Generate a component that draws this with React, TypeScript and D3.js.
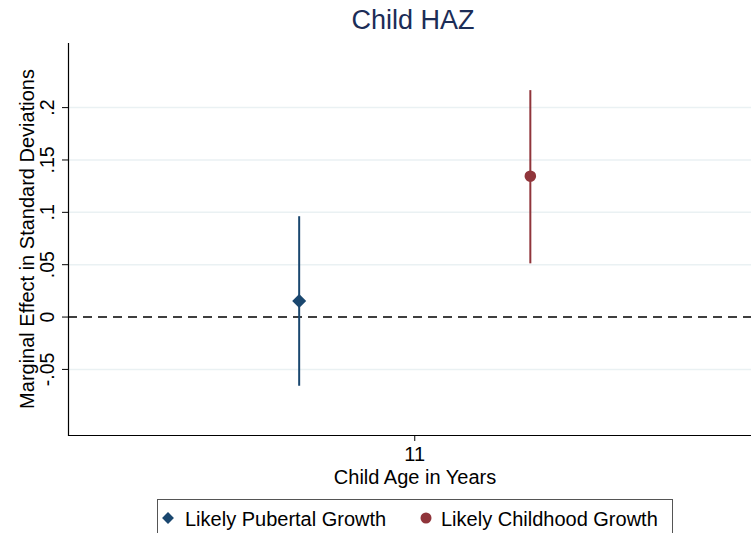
import React from "react";
import * as d3 from "d3";

const seriesNames = ["Likely Pubertal Growth", "Likely Childhood Growth"];
const seriesColors = ["#1a476f", "#90353b"];
const xPositions = [10.8, 11.2];
const estimates = [0.0153, 0.1345];
const ciLow = [-0.0656, 0.0513];
const ciHigh = [0.0963, 0.2167];
const yTicks = [-0.05, 0, 0.05, 0.1, 0.15, 0.2];
const yTickLabels = ["-.05", "0", ".05", ".1", ".15", ".2"];
const xTicks = [11];
const xTickLabels = ["11"];

const W = 751;
const H = 533;
const FONT = "'Liberation Sans', Arial, sans-serif";

export default function App() {
  const x = d3.scaleLinear().domain([10.4, 11.6]).range([68, 761.5]);
  const y = d3.scaleLinear().domain([-0.1131, 0.2617]).range([435.5, 43]);
  const diamond = d3.symbol().type(d3.symbolDiamond2).size(125)();
  const circle = d3.symbol().type(d3.symbolCircle).size(105)();
  return (
    <svg
      width={W}
      height={H}
      style={{ position: "absolute", left: 0, top: 0, background: "#fff" }}
      fontFamily={FONT}
    >
      <rect x={0} y={0} width={W} height={H} fill="#fff" />
      <text x={413} y={29} textAnchor="middle" fontSize={27} fill="#1c2d57">
        Child HAZ
      </text>
      {yTicks.map((t, i) => (
        <g key={i}>
          {t !== 0 && (
            <line x1={68} x2={W} y1={y(t)} y2={y(t)} stroke="#eaf1f3" strokeWidth={1.5} />
          )}
          <line x1={62} x2={68} y1={y(t)} y2={y(t)} stroke="#000" strokeWidth={1} />
          <text
            transform={`translate(53.5,${y(t)}) rotate(-90)`}
            textAnchor="middle"
            fontSize={19.5}
            fill="#000"
          >
            {yTickLabels[i]}
          </text>
        </g>
      ))}
      <line
        x1={68}
        x2={W}
        y1={y(0)}
        y2={y(0)}
        stroke="#000"
        strokeWidth={1.5}
        strokeDasharray="9,6"
      />
      <line x1={68.5} x2={68.5} y1={43} y2={436} stroke="#000" strokeWidth={1.2} />
      <line x1={68} x2={W} y1={435.5} y2={435.5} stroke="#000" strokeWidth={1.2} />
      {xTicks.map((t, i) => (
        <g key={i}>
          <line x1={x(t)} x2={x(t)} y1={435.5} y2={441} stroke="#000" strokeWidth={1} />
          <text x={x(t)} y={461} textAnchor="middle" fontSize={20} fill="#000">
            {xTickLabels[i]}
          </text>
        </g>
      ))}
      <text x={415} y={484} textAnchor="middle" fontSize={20} fill="#000">
        Child Age in Years
      </text>
      <text
        transform={`translate(34,239) rotate(-90)`}
        textAnchor="middle"
        fontSize={20}
        fill="#000"
      >
        Marginal Effect in Standard Deviations
      </text>
      {estimates.map((e, i) => (
        <g key={i}>
          <line
            x1={x(xPositions[i])}
            x2={x(xPositions[i])}
            y1={y(ciLow[i])}
            y2={y(ciHigh[i])}
            stroke={seriesColors[i]}
            strokeWidth={2}
          />
          <path
            d={i === 0 ? diamond : circle}
            transform={`translate(${x(xPositions[i])},${y(e)})`}
            fill={seriesColors[i]}
          />
        </g>
      ))}
      <rect x={157.5} y={499.5} width={515} height={40} fill="#fff" stroke="#555" strokeWidth={1} />
      <path d={d3.symbol().type(d3.symbolDiamond2).size(90)()} transform="translate(168,518)" fill={seriesColors[0]} />
      <text x={185} y={526} fontSize={20} fill="#000">
        {seriesNames[0]}
      </text>
      <circle cx={426} cy={518} r={5.5} fill={seriesColors[1]} />
      <text x={441} y={526} fontSize={20} fill="#000">
        {seriesNames[1]}
      </text>
    </svg>
  );
}
